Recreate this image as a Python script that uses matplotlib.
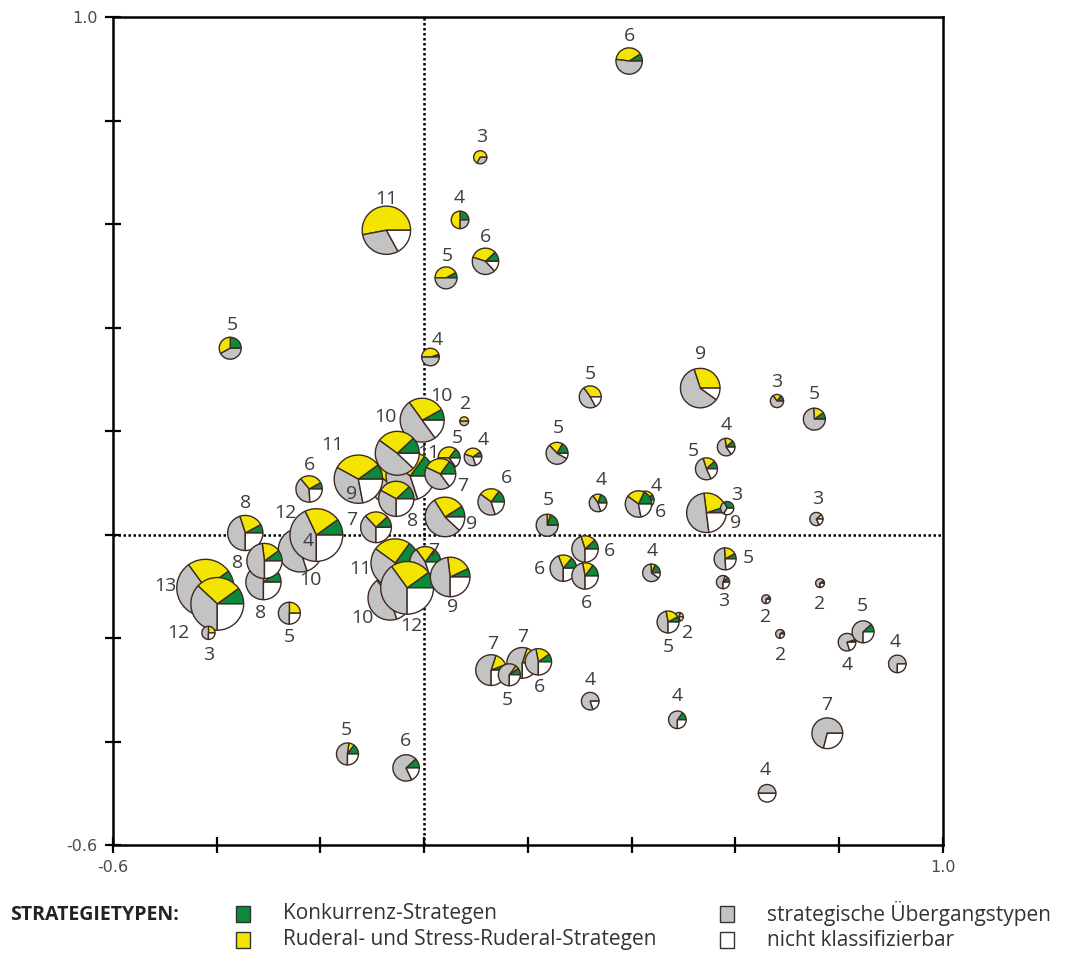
import matplotlib
matplotlib.use("Agg")
import matplotlib.pyplot as plt
from matplotlib.patches import Wedge, Rectangle
import numpy as np

# number of species per releve group (label of each pie)
n_arten = [6, 3, 11, 4, 5, 6, 5, 4, 5, 9, 3, 5, 2, 10,
           9, 11, 11, 10, 5, 4, 7, 6, 8, 7, 9,
           4, 10, 12, 8, 8, 8, 13, 12, 3, 5,
           10, 11, 7, 12, 9,
           5, 5, 6, 4, 4, 6, 9, 3, 6, 6, 6, 4, 5, 3, 2, 2, 2, 3, 4, 5,
           4, 5, 4, 2, 5, 7, 7, 5, 6, 4, 4, 7, 4, 5, 6]

# ordination scores (axis 1 / axis 2)
achse1 = [0.395, 0.108, -0.073, 0.069, 0.042, 0.118, -0.374, 0.012, 0.320, 0.532, 0.680, 0.752, 0.077, -0.004,
          -0.066, -0.027, -0.127, -0.052, 0.048, 0.094, 0.031, -0.222, -0.054, -0.093, 0.040,
          -0.229, -0.239, -0.208, -0.345, -0.310, -0.308, -0.422, -0.399, -0.416, -0.260,
          -0.066, -0.056, 0.002, -0.033, 0.050,
          0.237, 0.256, 0.129, 0.335, 0.426, 0.413, 0.544, 0.584, 0.310, 0.268, 0.310, 0.438, 0.580, 0.576,
          0.659, 0.763, 0.686, 0.756, 0.582, 0.544,
          0.815, 0.846, 0.912, 0.491, 0.470, 0.189, 0.129, 0.164, 0.220, 0.320, 0.488, 0.777, 0.661, -0.148, -0.035]
achse2 = [0.915, 0.729, 0.588, 0.608, 0.496, 0.528, 0.360, 0.343, 0.266, 0.283, 0.258, 0.223, 0.219, 0.221,
          0.098, 0.113, 0.107, 0.157, 0.148, 0.150, 0.117, 0.088, 0.069, 0.014, 0.034,
          -0.005, -0.030, -0.001, 0.003, -0.092, -0.051, -0.103, -0.134, -0.190, -0.152,
          -0.123, -0.055, -0.053, -0.103, -0.082,
          0.018, 0.157, 0.063, 0.061, 0.067, 0.059, 0.042, 0.051, -0.028, -0.065, -0.080, -0.074, -0.047, -0.092,
          -0.125, -0.094, -0.192, 0.030, 0.169, 0.127,
          -0.208, -0.188, -0.250, -0.159, -0.169, -0.248, -0.262, -0.271, -0.246, -0.322, -0.358, -0.384, -0.500, -0.424, -0.451]

# shares of strategy types (%)
konkurrenz = [9, 0, 0, 25, 8, 12, 25, 5, 0, 0, 15, 10, 0, 8,
              10, 15, 10, 12, 15, 10, 15, 8, 12, 12, 9,
              10, 5, 10, 8, 10, 10, 10, 10, 0, 0,
              10, 15, 15, 10, 7,
              20, 17, 15, 20, 10, 18, 5, 33, 12, 14, 15, 18, 8, 12, 0, 0, 0, 0, 12, 12,
              5, 12, 0, 0, 8, 5, 6, 10, 10, 0, 15, 0, 0, 15, 12]
ruderal = [39, 67, 53, 50, 42, 33, 33, 45, 35, 30, 20, 16, 50, 27,
           30, 25, 32, 28, 35, 35, 28, 28, 30, 25, 25,
           20, 25, 22, 22, 15, 17, 25, 28, 25, 25,
           25, 25, 20, 25, 20,
           5, 20, 25, 15, 20, 22, 22, 0, 18, 17, 13, 8, 18, 8, 10, 10, 10, 12, 15, 18,
           0, 0, 0, 20, 20, 15, 14, 5, 18, 0, 0, 0, 0, 8, 0]
uebergang = [52, 33, 30, 25, 50, 42, 42, 50, 48, 60, 65, 74, 50, 50,
             45, 40, 36, 48, 35, 35, 42, 40, 33, 38, 54,
             50, 50, 43, 45, 50, 48, 45, 37, 50, 50,
             45, 40, 45, 40, 48,
             75, 55, 40, 45, 50, 38, 50, 33, 45, 44, 47, 64, 50, 55, 65, 65, 65, 70, 58, 52,
             75, 63, 75, 60, 47, 55, 55, 60, 47, 80, 60, 71, 50, 52, 70]
nicht_klass = [0, 0, 17, 0, 0, 13, 0, 0, 17, 10, 0, 0, 0, 15,
               15, 20, 22, 12, 15, 20, 15, 24, 25, 25, 12,
               20, 20, 25, 25, 25, 25, 20, 25, 25, 25,
               20, 20, 20, 25, 25,
               0, 8, 20, 20, 20, 22, 23, 34, 25, 25, 25, 10, 24, 25, 25, 25, 25, 18, 15, 18,
               20, 25, 25, 20, 25, 25, 25, 25, 25, 20, 25, 29, 50, 25, 18]

# label offsets in pixels (dx right, dy down)
lab_dx = [0, 1, 0, -1, 1, 0, 2, 7, 0, 0, 0, 0, 1, 19,
          -38, 18, -26, -12, 8, 10, 22, 0, 16, -24, 27,
          3, 10, -31, 0, -3, -27, -40, -39, 0, 0,
          -28, -35, 8, 4, 2,
          1, 1, 15, 3, 11, 22, 29, 9, 24, -24, 1, 1, 23, 1, 0, 0, 1, 1, 0, -13,
          0, -1, -2, 9, 0, 0, 2, -2, 1, 0, 0, -1, -2, -1, -1]
lab_dy = [-25, -20, -31, -22, -22, -24, -23, -17, -23, -34, -19, -25, -17, -24,
          10, -23, -34, -36, -20, -17, 12, -24, 22, -7, 7,
          4, 30, -22, -30, 31, 2, -2, 29, 22, 24,
          20, 6, -11, 38, 30,
          -25, -25, -24, -23, -14, 8, 10, -13, 2, 1, 27, -22, -1, 19, 18, 21, 21, -20, -22, -18,
          23, -26, -22, 16, 25, -26, -26, 25, 25, -21, -24, -28, -23, -24, -27]

farben = ['#0b8a3c', '#f4e500', '#c3c3c3', '#ffffff']
rand = '#3d2a22'
r_pro_art = 2.2 / 518.75

fig = plt.figure(figsize=(10.66, 9.57), dpi=100)
ax = fig.add_axes([0.106, 0.117, 0.7786, 0.8652])

ax.axvline(0, color='k', ls=(0, (1, 1)), lw=1.8, zorder=1)
ax.axhline(0, color='k', ls=(0, (1, 1)), lw=1.8, zorder=1)

for i in range(len(n_arten)):
    teile = [konkurrenz[i], ruderal[i], uebergang[i], nicht_klass[i]]
    summe = float(sum(teile))
    r = n_arten[i] * r_pro_art
    a = 0.0
    for wert, col in zip(teile, farben):
        if wert == 0:
            continue
        w = 360.0 * wert / summe
        ax.add_patch(Wedge((achse1[i], achse2[i]), r, a, a + w, facecolor=col,
                           edgecolor=rand, lw=1.0, zorder=3 + i * 0.01))
        a += w
    ax.annotate(str(n_arten[i]), (achse1[i], achse2[i]),
                xytext=(lab_dx[i], -lab_dy[i]), textcoords='offset pixels',
                ha='center', va='center', fontsize=14, color='#3c3c3c',
                family='Open Sans', zorder=10)

ax.set_xlim(-0.6, 1.0)
ax.set_ylim(-0.6, 1.0)
ticks = np.round(np.arange(-0.6, 1.01, 0.2), 1)
ax.set_xticks(ticks)
ax.set_yticks(ticks)
ax.set_xticklabels(['-0.6'] + [''] * 7 + ['1.0'])
ax.set_yticklabels(['-0.6'] + [''] * 7 + ['1.0'])
ax.tick_params(direction='inout', length=12, width=1.6, labelsize=11.5,
               labelcolor='#4a4a4a', pad=5)
for s in ax.spines.values():
    s.set_linewidth(1.8)

# legend
fig.text(10 / 1066, 1 - 915 / 957, 'STRATEGIETYPEN:', fontsize=14, fontweight='bold',
         color='#222222', va='center', family='Open Sans')
leg_text = ['Konkurrenz-Strategen', 'Ruderal- und Stress-Ruderal-Strategen',
            'strategische Übergangstypen', 'nicht klassifizierbar']
leg_x = [236, 236, 720, 720]
leg_y = [914, 940, 914, 940]
for f, t, lx, ly in zip(farben, leg_text, leg_x, leg_y):
    fig.patches.append(Rectangle((lx / 1066, 1 - (ly + 8) / 957), 14 / 1066, 16 / 957,
                                 facecolor=f, edgecolor='#333333', lw=1.0,
                                 transform=fig.transFigure, figure=fig))
    fig.text((lx + 47) / 1066, 1 - ly / 957, t, fontsize=15, color='#333333',
             va='center', family='Open Sans')

plt.savefig('out.png', dpi=100)
